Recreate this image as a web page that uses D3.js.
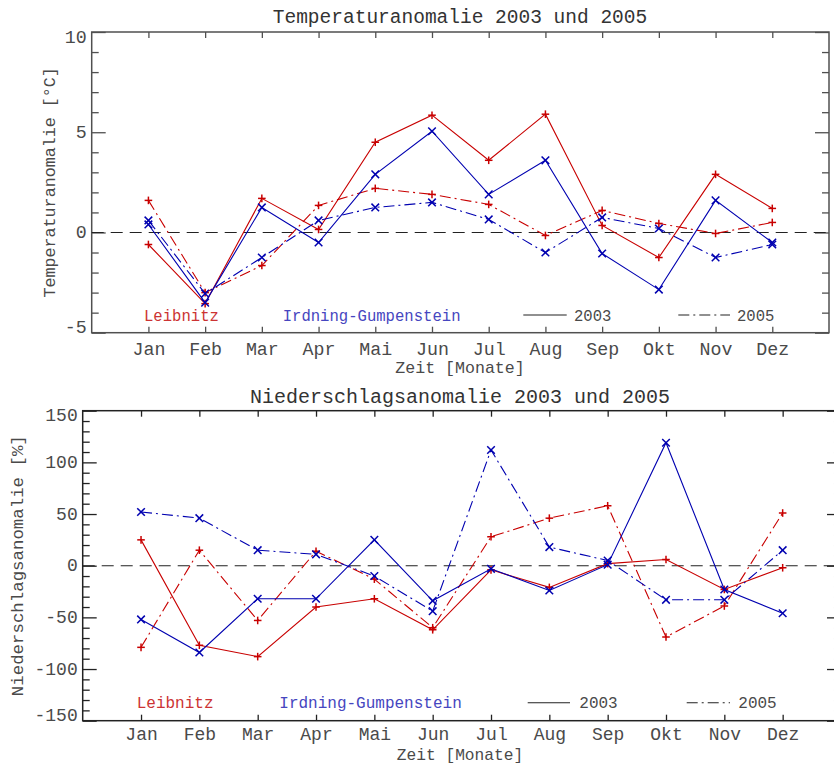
<!DOCTYPE html>
<html><head><meta charset="utf-8">
<script src="https://cdn.jsdelivr.net/npm/d3@7"></script>
<style>
html,body{margin:0;padding:0;background:#fff;}
svg{display:block;}
text{font-family:"Liberation Mono","DejaVu Sans Mono",monospace;}
</style></head>
<body>
<svg id="chart" width="834" height="763"></svg>
<script>
// ---------- DATA ----------
const months = ["Jan","Feb","Mar","Apr","Mai","Jun","Jul","Aug","Sep","Okt","Nov","Dez"];
const monthIndex = [1,2,3,4,5,6,7,8,9,10,11,12];

// Temperature anomaly [°C]
const tempLeibnitz2003 = [-0.6,-3.55,1.7,0.15,4.5,5.85,3.6,5.9,0.35,-1.25,2.9,1.2];
const tempLeibnitz2005 = [1.6,-3.0,-1.65,1.35,2.2,1.9,1.4,-0.15,1.1,0.45,-0.05,0.5];
const tempIrdning2003  = [0.4,-3.5,1.25,-0.5,2.9,5.05,1.9,3.6,-1.05,-2.85,1.6,-0.5];
const tempIrdning2005  = [0.6,-3.05,-1.25,0.6,1.25,1.5,0.65,-1.0,0.75,0.2,-1.25,-0.6];
const tempTicks = [-5,0,5,10];

// Precipitation anomaly [%]
const precLeibnitz2003 = [25,-77,-88,-40,-32,-62,-4,-21,2,6,-23,-2];
const precLeibnitz2005 = [-79,15,-53,14,-13,-60,28,46,58,-69,-39,51];
const precIrdning2003  = [-52,-84,-32,-32,25,-34,-3,-24,1,119,-23,-46];
const precIrdning2005  = [52,46,15,11,-10,-44,112,18,5,-33,-33,15];
const precTicks = [-150,-100,-50,0,50,100,150];

// ---------- STYLE ----------
const RED = "#c80000", BLUE = "#0000b0";
const RED_T = "#cc3333", BLUE_T = "#4646c0";
const AXIS = "#4a4a4a";
const DASHDOT = "11,4,2,4";

const panels = [
  {box:{l:91.7,r:829,t:32,b:332.7}, yDomain:[-5,10], majors:tempTicks, minorStep:1,
   series:[
     {v:tempLeibnitz2003,c:RED,m:"+",dash:null},
     {v:tempLeibnitz2005,c:RED,m:"+",dash:DASHDOT},
     {v:tempIrdning2003,c:BLUE,m:"x",dash:null},
     {v:tempIrdning2005,c:BLUE,m:"x",dash:DASHDOT}],
   title:"Temperaturanomalie 2003 und 2005", titleY:23, titleFs:19.5,
   ytitle:"Temperaturanomalie [°C]", ytitleX:55, axisFs:16.7, tickFs:18.3,
   monthY:355, xtitleY:373, xtitleFs:16.6,
   legend:{y:315, fs:15.6, lx:144, ix:282.7, l1:[523.3,566.7], t1:574, l2:[678.3,730], t2:737},
   axisColor:"#505050"},
  {box:{l:82.7,r:82.7+13*58.33,t:410.7,b:720.7}, yDomain:[-150,150], majors:precTicks, minorStep:10,
   series:[
     {v:precLeibnitz2003,c:RED,m:"+",dash:null},
     {v:precLeibnitz2005,c:RED,m:"+",dash:DASHDOT},
     {v:precIrdning2003,c:BLUE,m:"x",dash:null},
     {v:precIrdning2005,c:BLUE,m:"x",dash:DASHDOT}],
   title:"Niederschlagsanomalie 2003 und 2005", titleY:403, titleFs:20,
   ytitle:"Niederschlagsanomalie [%]", ytitleX:23.3, axisFs:17.4, tickFs:18,
   monthY:740.5, xtitleY:759.5, xtitleFs:16.2,
   legend:{y:702.7, fs:16, lx:136.7, ix:279.3, l1:[527.7,570], t1:579.3, l2:[686.7,730], t2:738.3},
   axisColor:"#222"}
];

const svg = d3.select("#chart");

panels.forEach(p => {
  const B = p.box;
  const x = d3.scaleLinear().domain([0,13]).range([B.l,B.r]);
  const y = d3.scaleLinear().domain(p.yDomain).range([B.b,B.t]);
  const g = svg.append("g");

  const minors = d3.range(p.yDomain[0], p.yDomain[1]+1e-9, p.minorStep)
    .filter(v => !p.majors.includes(v));

  const axColor = p.axisColor;
  function styleAxis(sel){
    sel.selectAll("path.domain").remove();
    sel.selectAll("line").attr("stroke",axColor).attr("stroke-width",1.3);
  }
  const left = g.append("g").attr("transform",`translate(${B.l},0)`)
    .call(d3.axisLeft(y).tickValues(p.majors).tickSize(-14).tickSizeOuter(0).tickPadding(5)
      .tickFormat(d3.format("d")));
  styleAxis(left);
  left.selectAll("text")
    .attr("font-size",p.tickFs).attr("fill",AXIS)
    .attr("dy",null).attr("dominant-baseline","central")
    .attr("y",function(d){ const yy=y(d); const c=Math.min(Math.max(yy,B.t+5),B.b-5); return c-yy; })
    .text(d => String(d).replace("\u2212","-"));
  const leftMinor = g.append("g").attr("transform",`translate(${B.l},0)`)
    .call(d3.axisLeft(y).tickValues(minors).tickSize(-7).tickSizeOuter(0).tickFormat(""));
  styleAxis(leftMinor);
  const right = g.append("g").attr("transform",`translate(${B.r},0)`)
    .call(d3.axisRight(y).tickValues(p.majors).tickSize(-14).tickSizeOuter(0).tickFormat(""));
  styleAxis(right);
  const rightMinor = g.append("g").attr("transform",`translate(${B.r},0)`)
    .call(d3.axisRight(y).tickValues(minors).tickSize(-7).tickSizeOuter(0).tickFormat(""));
  styleAxis(rightMinor);
  const top = g.append("g").attr("transform",`translate(0,${B.t})`)
    .call(d3.axisTop(x).tickValues(monthIndex).tickSize(-6).tickSizeOuter(0).tickFormat(""));
  styleAxis(top);
  const bottom = g.append("g").attr("transform",`translate(0,${B.b})`)
    .call(d3.axisBottom(x).tickValues(monthIndex).tickSize(-6).tickSizeOuter(0)
      .tickFormat((d,i) => months[i]));
  styleAxis(bottom);
  bottom.selectAll("text").attr("font-size",p.tickFs).attr("fill",AXIS)
    .attr("dy",null).attr("y",p.monthY-B.b);

  g.append("rect").attr("x",B.l).attr("y",B.t).attr("width",B.r-B.l).attr("height",B.b-B.t)
    .attr("fill","none").attr("stroke",axColor).attr("stroke-width",1.5);

  g.append("line").attr("x1",B.l).attr("x2",B.r).attr("y1",y(0)).attr("y2",y(0))
    .attr("stroke","#222").attr("stroke-width",1.1).attr("stroke-dasharray","12,7");

  const line = d3.line().x((d,i)=>x(monthIndex[i])).y(d=>y(d));
  p.series.forEach(s => {
    g.append("path").datum(s.v).attr("d",line).attr("fill","none")
      .attr("stroke",s.c).attr("stroke-width",1.1)
      .attr("stroke-dasharray",s.dash);
    const mk = g.append("g");
    s.v.forEach((v,i) => {
      const cx = x(monthIndex[i]), cy = y(v), r = 3.8;
      const pts = s.m === "+"
        ? [[cx-r,cy,cx+r,cy],[cx,cy-r,cx,cy+r]]
        : [[cx-r,cy-r,cx+r,cy+r],[cx-r,cy+r,cx+r,cy-r]];
      pts.forEach(q => mk.append("line").attr("x1",q[0]).attr("y1",q[1]).attr("x2",q[2]).attr("y2",q[3])
        .attr("stroke",s.c).attr("stroke-width",1.5));
    });
  });

  const cxTitle = (B.l+Math.min(B.r,2*460-B.l))/2;
  g.append("text").attr("x",cxTitle).attr("y",p.titleY)
    .attr("text-anchor","middle").attr("font-size",p.titleFs).attr("fill","#333").text(p.title);
  g.append("text").attr("x",cxTitle).attr("y",p.xtitleY)
    .attr("text-anchor","middle").attr("font-size",p.xtitleFs).attr("fill",AXIS).text("Zeit [Monate]");
  g.append("text").attr("transform",`translate(${p.ytitleX},${(B.t+B.b)/2}) rotate(-90)`)
    .attr("text-anchor","middle").attr("font-size",p.axisFs).attr("fill",AXIS).text(p.ytitle);

  const L = p.legend, base = L.y + L.fs*0.36;
  g.append("text").attr("x",L.lx).attr("y",base).attr("font-size",L.fs).attr("fill",RED_T).text("Leibnitz");
  g.append("text").attr("x",L.ix).attr("y",base).attr("font-size",L.fs).attr("fill",BLUE_T).text("Irdning-Gumpenstein");
  g.append("line").attr("x1",L.l1[0]).attr("x2",L.l1[1]).attr("y1",L.y).attr("y2",L.y)
    .attr("stroke","#222").attr("stroke-width",1.1);
  g.append("text").attr("x",L.t1).attr("y",base).attr("font-size",L.fs).attr("fill",AXIS).text("2003");
  g.append("line").attr("x1",L.l2[0]).attr("x2",L.l2[1]).attr("y1",L.y).attr("y2",L.y)
    .attr("stroke","#222").attr("stroke-width",1.1).attr("stroke-dasharray",DASHDOT);
  g.append("text").attr("x",L.t2).attr("y",base).attr("font-size",L.fs).attr("fill",AXIS).text("2005");
});
</script>
</body></html>
